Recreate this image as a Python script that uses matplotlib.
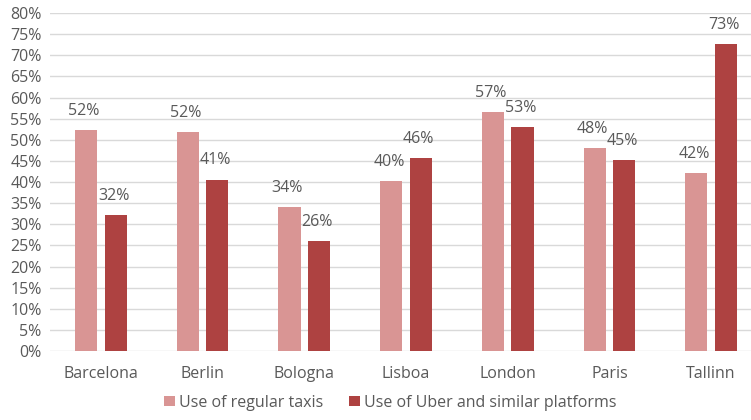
import matplotlib.pyplot as plt
import numpy as np

cities = ['Barcelona', 'Berlin', 'Bologna', 'Lisboa', 'London', 'Paris', 'Tallinn']
taxis = [52.3, 51.8, 34.1, 40.2, 56.6, 48.0, 42.1]
uber = [32.2, 40.6, 26.0, 45.7, 53.0, 45.2, 72.7]
series_names = ['Use of regular taxis', 'Use of Uber and similar platforms']

plt.rcParams['font.family'] = ['Open Sans', 'DejaVu Sans']
grey = '#595959'
light = '#D99594'
dark = '#AE4241'

fig = plt.figure(figsize=(7.51, 4.2), dpi=100)
# plot area runs a little past the right edge, like the cropped original
ax = fig.add_axes([0.0666, 0.164, 0.948, 0.805])

x = np.arange(len(cities))
w = 0.218
b1 = ax.bar(x - 0.145, taxis, w, color=light, label=series_names[0], zorder=3)
b2 = ax.bar(x + 0.145, uber, w, color=dark, label=series_names[1], zorder=3)

for bars, vals in ((b1, taxis), (b2, uber)):
    for rect, v in zip(bars, vals):
        ax.annotate(f'{round(v)}%', (rect.get_x() + rect.get_width() / 2, v),
                    xytext=(-1.5, 8), textcoords='offset points',
                    ha='center', va='bottom', fontsize=11.5, color=grey)

ax.set_xlim(-0.5, 6.5)
ax.set_ylim(0, 80)
ax.set_yticks(range(0, 81, 5))
ax.set_yticklabels([f'{t}%' for t in range(0, 81, 5)])
ax.set_xticks(x)
ax.set_xticklabels(cities)
ax.tick_params(axis='both', length=0, labelsize=11.5, labelcolor=grey)
ax.tick_params(axis='x', pad=11)
ax.tick_params(axis='y', pad=6)
ax.grid(axis='y', color='#D9D9D9', linewidth=1, zorder=0)
for s in ax.spines.values():
    s.set_visible(False)

fig.legend(loc='lower center', bbox_to_anchor=(0.52, -0.012), ncol=2, frameon=False,
           fontsize=11.5, labelcolor=grey, handlelength=0.65, handleheight=0.65,
           columnspacing=1.6, handletextpad=0.3)

fig.savefig('out.png', dpi=100)
